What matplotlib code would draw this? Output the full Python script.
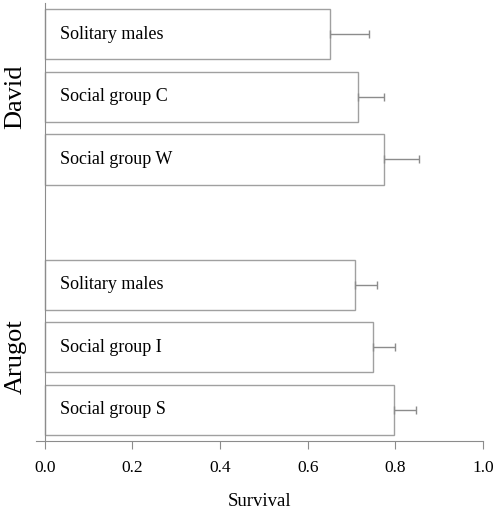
import numpy as np
import matplotlib.pyplot as plt

plt.rcParams['font.family'] = ['Liberation Serif', 'DejaVu Serif']

# data
labels = ['Solitary males', 'Social group C', 'Social group W',
          'Solitary males', 'Social group I', 'Social group S']
survival = [0.651, 0.715, 0.775, 0.708, 0.750, 0.797]
err_up = [0.089, 0.060, 0.080, 0.049, 0.050, 0.049]
positions = [0, 1, 2, 4, 5, 6]
sites = ['David', 'Arugot']
site_pos = [1.0, 5.15]

fig = plt.figure(figsize=(4.98, 5.17), dpi=100)
ax = fig.add_axes([0.0723, 0.147, 0.8976, 0.847])

edge = '#a0a0a0'
ax.barh(positions, survival, height=0.8, color='white', edgecolor=edge, linewidth=1.0)
ax.errorbar(survival, positions, xerr=[np.zeros(len(survival)), err_up],
            fmt='none', ecolor='#8c8c8c', elinewidth=1.0, capsize=3, capthick=1.0)

for p, lab in zip(positions, labels):
    ax.text(0.035, p, lab, va='center', ha='left', fontsize=13)

for p, s in zip(site_pos, sites):
    ax.text(-0.046, p, s, rotation=90, va='center', ha='center', fontsize=19,
            transform=ax.get_yaxis_transform())

ax.set_xlim(-0.02, 1.0)
ax.set_ylim(6.5, -0.5)
ax.set_xticks([0.0, 0.2, 0.4, 0.6, 0.8, 1.0])
ax.set_xticklabels(['0.0', '0.2', '0.4', '0.6', '0.8', '1.0'], fontsize=12.5)
ax.set_yticks([])
ax.set_xlabel('Survival', fontsize=13.5, labelpad=12)

for side in ['top', 'right']:
    ax.spines[side].set_visible(False)
ax.spines['left'].set_position(('data', 0))
ax.spines['left'].set_color('#8c8c8c')
ax.spines['bottom'].set_color('#8c8c8c')
ax.tick_params(axis='x', direction='out', length=6, color='#8c8c8c', pad=8)

fig.savefig('out.png', dpi=100)
